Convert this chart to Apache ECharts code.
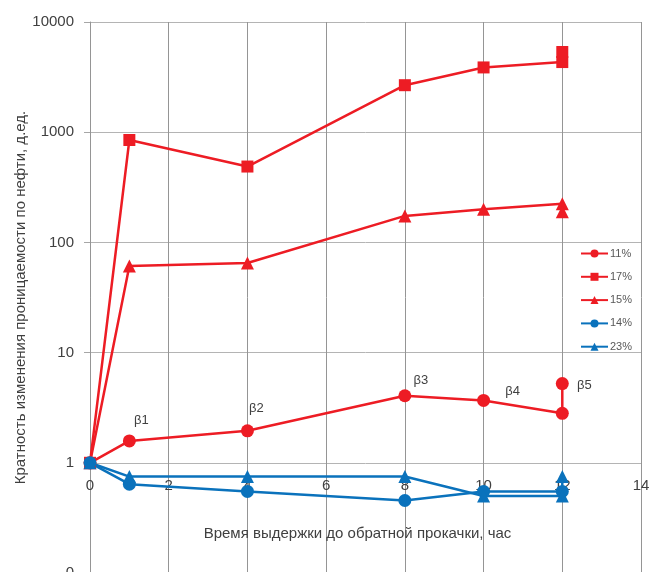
<!DOCTYPE html>
<html>
<head>
<meta charset="utf-8">
<script src="https://cdn.jsdelivr.net/npm/echarts@6/dist/echarts.min.js"></script>
<style>
  html, body { margin: 0; padding: 0; background: #fff; }
  #chart { width: 654px; height: 572px; }
</style>
</head>
<body>
<div id="chart"></div>
<script>
// время выдержки, час
const hours = [0, 1, 4, 8, 10, 12, 12];
const hoursShort = [0, 1, 4, 8, 10, 12];

// кратность изменения проницаемости
const s11 = [1, 1.58, 1.95, 4.06, 3.68, 2.81, 5.23];
const s17 = [1, 850, 488, 2670, 3870, 4330, 5340];
const s15 = [1, 61, 65, 174, 200, 224, 190];
const s14 = [1, 0.64, 0.55, 0.455, 0.55, 0.55];
const s23 = [1, 0.75, 0.75, 0.75, 0.5, 0.5, 0.75];

const names = ['11%', '17%', '15%', '14%', '23%'];
const betaText = ['', 'β1', 'β2', 'β3', 'β4', '', 'β5'];

const red = '#ed1c24';
const blue = '#0a72bc';
const textColor = '#404040';

// смещения подписей β от точек
const betaOffset = [null, [12, -20], [9, -22], [16, -15], [29, -9], null, [22, 2]];

function pairs(xs, ys) {
  return ys.map((v, i) => [xs[i], v]);
}

var myChart = echarts.init(document.getElementById('chart'));

function lineSeries(name, xs, ys, color, symbol, size) {
  return {
    name: name,
    type: 'line',
    data: pairs(xs, ys),
    symbol: symbol,
    symbolSize: size,
    lineStyle: { color: color, width: 2.5 },
    itemStyle: { color: color },
    emphasis: { disabled: true }
  };
}

const ser11 = lineSeries(names[0], hours, s11, red, 'circle', 13);
ser11.data = ser11.data.map((p, i) => {
  if (!betaText[i]) return p;
  return {
    value: p,
    label: {
      show: true,
      formatter: betaText[i],
      position: 'inside',
      offset: betaOffset[i],
      color: textColor,
      fontSize: 13,
      fontFamily: 'Liberation Sans'
    }
  };
});

var option = {
  animation: false,
  textStyle: { fontFamily: 'Liberation Sans' },
  grid: { left: 90, top: 22, width: 551, height: 551, outerBoundsMode: 'none' },
  legend: {
    orient: 'vertical',
    left: 580,
    top: 248,
    padding: 0,
    itemWidth: 27,
    itemHeight: 10,
    itemGap: 12.3,
    textStyle: { color: '#595959', fontSize: 11, padding: [0, 0, 0, -3] },
    data: names
  },
  xAxis: {
    type: 'value',
    min: 0,
    max: 14,
    interval: 2,
    offset: -110,
    axisLine: { show: false },
    axisTick: { show: false },
    axisLabel: { color: textColor, fontSize: 15, margin: 15 },
    splitLine: { show: true, lineStyle: { color: '#959595', width: 1 } },
    name: 'Время выдержки до обратной прокачки, час',
    nameLocation: 'middle',
    nameGap: 63,
    nameTextStyle: { color: textColor, fontSize: 15, padding: [0, 16, 0, 0] }
  },
  yAxis: {
    type: 'log',
    logBase: 10,
    min: 0.1,
    max: 10000,
    axisLine: { show: true, lineStyle: { color: '#959595' } },
    axisTick: { show: true, length: 6, lineStyle: { color: '#a6a6a6' } },
    axisLabel: {
      color: textColor,
      fontSize: 15,
      margin: 16,
      formatter: v => String(Math.round(v))
    },
    splitLine: { show: true, lineStyle: { color: '#b4b4b4', width: 1 } },
    name: 'Кратность изменения проницаемости по нефти, д.ед.',
    nameLocation: 'middle',
    nameGap: 62,
    nameMoveOverlap: false,
    nameTextStyle: { color: textColor, fontSize: 15 }
  },
  series: [
    ser11,
    lineSeries(names[1], hours, s17, red, 'rect', 12),
    lineSeries(names[2], hours, s15, red, 'triangle', 13),
    lineSeries(names[3], hoursShort, s14, blue, 'circle', 13),
    lineSeries(names[4], hours, s23, blue, 'triangle', 13)
  ]
};

myChart.setOption(option);
</script>
</body>
</html>
